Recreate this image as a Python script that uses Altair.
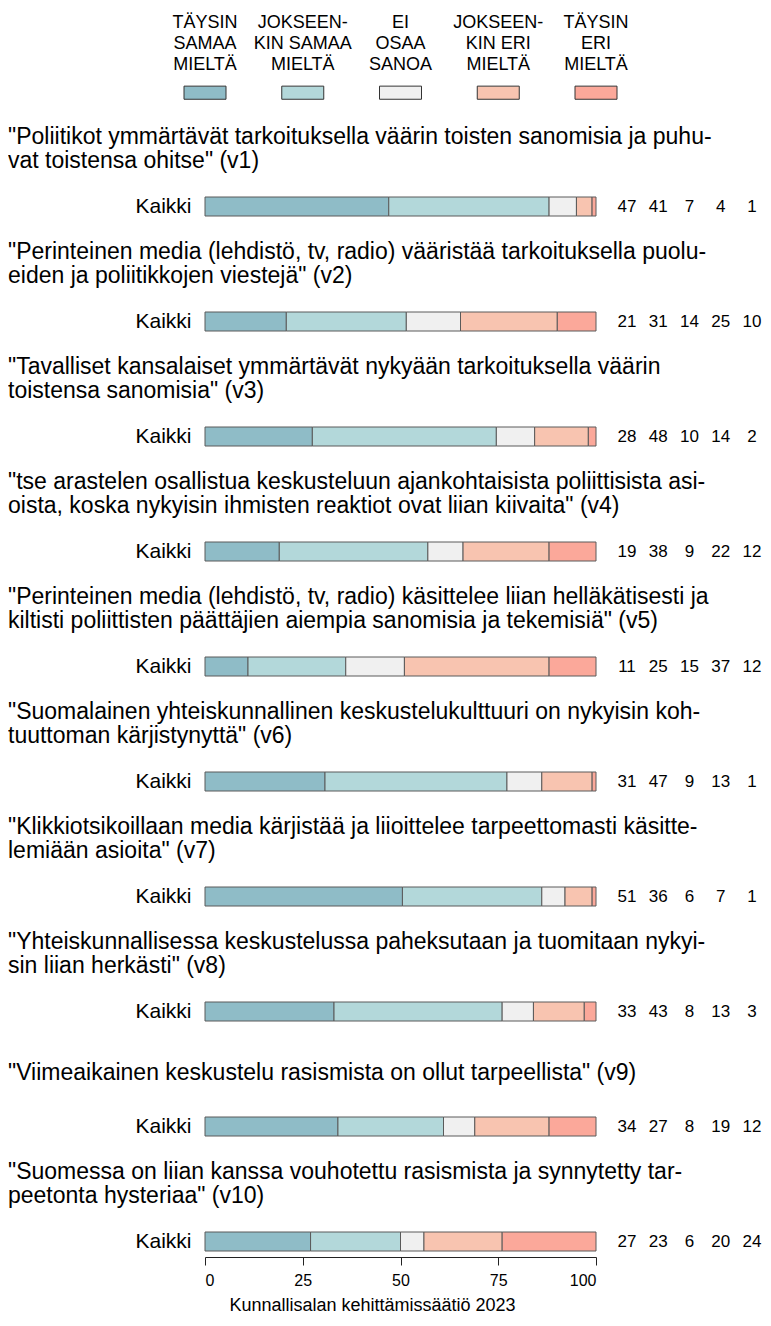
import altair as alt
import pandas as pd

categories = ["TÄYSIN SAMAA MIELTÄ", "JOKSEENKIN SAMAA MIELTÄ", "EI OSAA SANOA",
              "JOKSEENKIN ERI MIELTÄ", "TÄYSIN ERI MIELTÄ"]
legend_labels = [["TÄYSIN", "SAMAA", "MIELTÄ"], ["JOKSEEN-", "KIN SAMAA", "MIELTÄ"],
                 ["EI", "OSAA", "SANOA"], ["JOKSEEN-", "KIN ERI", "MIELTÄ"],
                 ["TÄYSIN", "ERI", "MIELTÄ"]]
colors = ["#8FBCC7", "#B3D8DA", "#F0F0F0", "#F8C4B0", "#FBA89A"]

titles = [
    ['"Poliitikot ymmärtävät tarkoituksella väärin toisten sanomisia ja puhu-', ' vat toistensa ohitse" (v1)'],
    ['"Perinteinen media (lehdistö, tv, radio) vääristää tarkoituksella puolu-', ' eiden ja poliitikkojen viestejä" (v2)'],
    ['"Tavalliset kansalaiset ymmärtävät nykyään tarkoituksella väärin', ' toistensa sanomisia" (v3)'],
    ['"tse arastelen osallistua keskusteluun ajankohtaisista poliittisista asi-', ' oista, koska nykyisin ihmisten reaktiot ovat liian kiivaita" (v4)'],
    ['"Perinteinen media (lehdistö, tv, radio) käsittelee liian helläkätisesti ja', ' kiltisti poliittisten päättäjien aiempia sanomisia ja tekemisiä" (v5)'],
    ['"Suomalainen yhteiskunnallinen keskustelukulttuuri on nykyisin koh-', ' tuuttoman kärjistynyttä" (v6)'],
    ['"Klikkiotsikoillaan media kärjistää ja liioittelee tarpeettomasti käsitte-', ' lemiään asioita" (v7)'],
    ['"Yhteiskunnallisessa keskustelussa paheksutaan ja tuomitaan nykyi-', ' sin liian herkästi" (v8)'],
    ['"Viimeaikainen keskustelu rasismista on ollut tarpeellista" (v9)'],
    ['"Suomessa on liian kanssa vouhotettu rasismista ja synnytetty tar-', ' peetonta hysteriaa" (v10)'],
]

values = [
    [47, 41, 7, 4, 1],
    [21, 31, 14, 25, 10],
    [28, 48, 10, 14, 2],
    [19, 38, 9, 22, 12],
    [11, 25, 15, 37, 12],
    [31, 47, 9, 13, 1],
    [51, 36, 6, 7, 1],
    [33, 43, 8, 13, 3],
    [34, 27, 8, 19, 12],
    [27, 23, 6, 20, 24],
]

group_label = "Kaikki"
axis_ticks = [0, 25, 50, 75, 100]
footer = "Kunnallisalan kehittämissäätiö 2023"

FONT = "Liberation Sans"
PW = 391
PH = 19
TITLE_FS = 23
TITLE_LH = 24

color_enc = alt.Color("cat:N", scale=alt.Scale(domain=categories, range=colors), legend=None)


def panel(i):
    df = pd.DataFrame({"cat": categories, "val": values[i], "ord": list(range(5)),
                       "grp": [group_label] * 5})
    last = i == len(values) - 1
    if last:
        xaxis = alt.Axis(values=axis_ticks, title=footer, titleFontSize=18, titleFontWeight="normal",
                         titleX=167, titleY=48, titleBaseline="middle", titleAlign="center",
                         titleColor="black", labelFontSize=16, labelColor="black", tickSize=8,
                         offset=6, grid=False, domainColor="#222222", tickColor="#222222",
                         labelPadding=7, format="d", labelFont=FONT, titleFont=FONT)
    else:
        xaxis = None
    base = alt.Chart(df)
    bars = base.transform_joinaggregate(total="sum(val)").transform_calculate(
        pct="datum.val / datum.total * 100"
    ).mark_bar(stroke="#5a5a5a", strokeWidth=1).encode(
        x=alt.X("pct:Q", stack="zero", scale=alt.Scale(domain=[0, 100], nice=False), axis=xaxis),
        y=alt.Y("grp:N", axis=alt.Axis(title=None, ticks=False, domain=False, labelFontSize=21,
                                       labelPadding=14, labelColor="black", labelFont=FONT),
                scale=alt.Scale(paddingInner=0, paddingOuter=0)),
        color=color_enc,
        order=alt.Order("ord:Q"),
    )
    labels = base.mark_text(fontSize=17, font=FONT, color="black").encode(
        x=alt.X("cat:N", sort=categories, scale=alt.Scale(type="point", padding=0, range=[422, 547]),
                axis=None),
        y=alt.Y("grp:N"),
        text=alt.Text("val:Q"),
    )
    if len(titles[i]) == 1:
        tparams = dict(text=["", titles[i][0]], lineHeight=TITLE_LH - 8, dy=-8)
    else:
        tparams = dict(text=titles[i], lineHeight=TITLE_LH)
    return alt.layer(bars, labels).resolve_scale(x="independent").properties(
        width=PW, height=PH,
        title=alt.TitleParams(anchor="start", frame="group", dx=-197, fontSize=TITLE_FS,
                              font=FONT, fontWeight="normal", offset=22.5,
                              color="black", **tparams),
    )


leg_df = pd.DataFrame({"cat": categories})
leg_lines = pd.DataFrame([
    {"cat": c, "line": j, "txt": t}
    for c, lines in zip(categories, legend_labels) for j, t in enumerate(lines)
])
leg_x = alt.X("cat:N", sort=categories, scale=alt.Scale(type="point", padding=0), axis=None)
leg_rects = alt.Chart(leg_df).mark_point(
    shape="M-1,-0.3125L1,-0.3125L1,0.3125L-1,0.3125Z", size=1764, filled=True, opacity=1,
    stroke="#333333", strokeWidth=1,
).encode(x=leg_x, y=alt.value(84.7), color=color_enc)
leg_text = alt.Chart(leg_lines).mark_text(
    baseline="alphabetic", fontSize=18, font=FONT, color="black"
).encode(
    x=leg_x,
    y=alt.Y("line:O", scale=alt.Scale(type="point", padding=0, range=[20.3, 61.9]), axis=None),
    text="txt:N",
)
legend = alt.layer(leg_rects, leg_text).properties(width=PW, height=93.4)

chart = alt.vconcat(legend, *[panel(i) for i in range(len(values))], spacing=23.0).properties(
    padding={"left": 0, "top": 0, "right": 0, "bottom": 0}
).configure(font=FONT).configure_view(strokeWidth=0)

chart.save("out.html", embed_options={"renderer": "svg", "actions": False})
